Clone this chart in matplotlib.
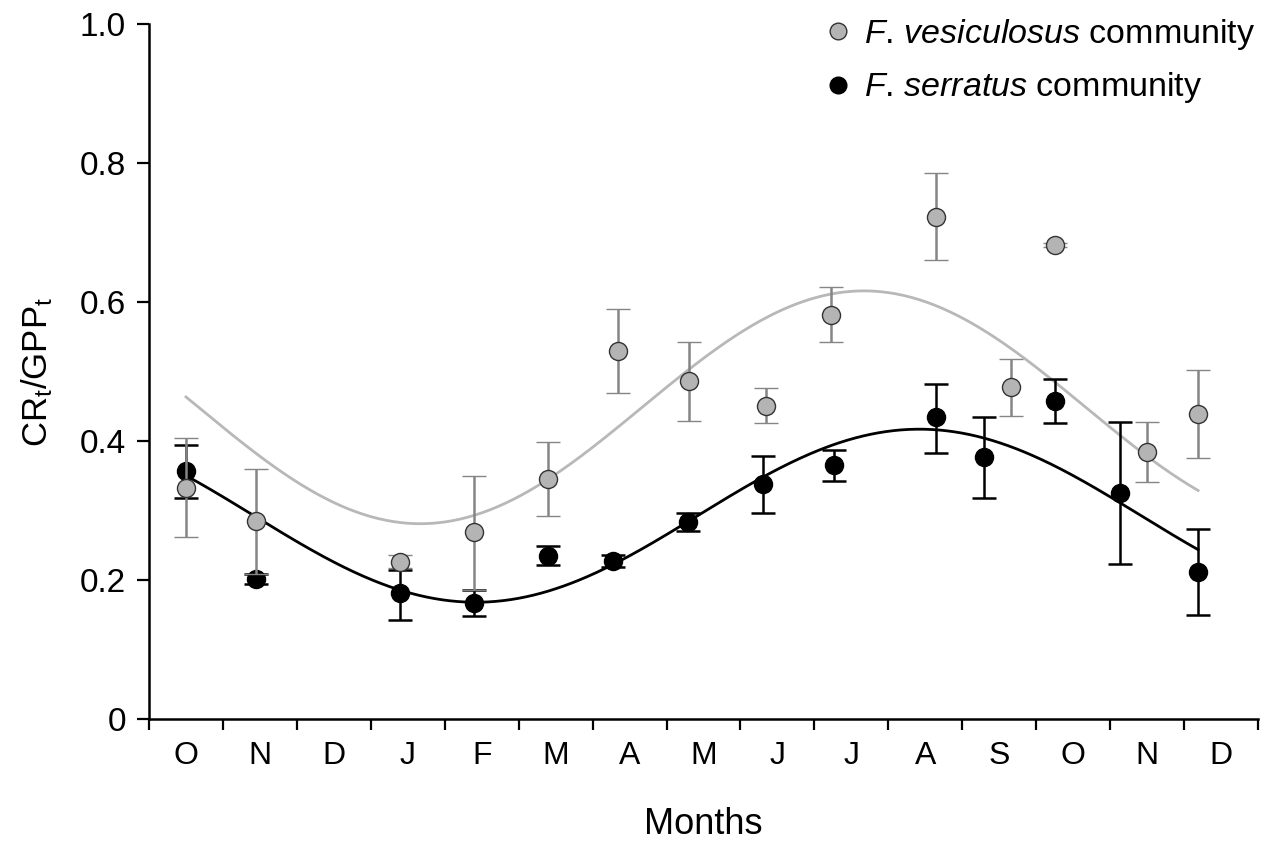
import numpy as np
import matplotlib
matplotlib.use("Agg")
import matplotlib.pyplot as plt
from matplotlib.lines import Line2D

plt.rcParams['font.family'] = ['Liberation Sans', 'DejaVu Sans']
plt.rcParams['mathtext.fontset'] = 'custom'
plt.rcParams['mathtext.rm'] = 'Liberation Sans'
plt.rcParams['mathtext.it'] = 'Liberation Sans:italic'

# ---- data (x in months from start of October, year 1) ----
month_labels = ['O', 'N', 'D', 'J', 'F', 'M', 'A', 'M', 'J', 'J', 'A', 'S', 'O', 'N', 'D']

ves_x = [0.50, 1.45, 3.40, 4.40, 5.40, 6.34, 7.30, 8.35, 9.23, 10.65, 11.66, 12.25, 13.50, 14.19]
ves_y = [0.333, 0.285, 0.226, 0.269, 0.345, 0.530, 0.486, 0.451, 0.581, 0.723, 0.478, 0.682, 0.384, 0.439]
ves_lo = [0.262, 0.209, 0.217, 0.186, 0.292, 0.469, 0.429, 0.426, 0.542, 0.660, 0.436, 0.679, 0.341, 0.375]
ves_hi = [0.404, 0.359, 0.236, 0.349, 0.398, 0.590, 0.542, 0.476, 0.622, 0.785, 0.518, 0.685, 0.427, 0.502]

ser_x = [0.50, 1.45, 3.40, 4.40, 5.40, 6.27, 7.29, 8.31, 9.27, 10.65, 11.30, 12.25, 13.14, 14.19]
ser_y = [0.357, 0.201, 0.182, 0.167, 0.235, 0.228, 0.284, 0.338, 0.365, 0.434, 0.377, 0.458, 0.325, 0.212]
ser_lo = [0.318, 0.194, 0.142, 0.148, 0.222, 0.219, 0.271, 0.297, 0.343, 0.383, 0.318, 0.426, 0.223, 0.150]
ser_hi = [0.394, 0.208, 0.214, 0.186, 0.249, 0.236, 0.297, 0.379, 0.387, 0.482, 0.435, 0.489, 0.427, 0.273]

# fitted sinusoid parameters (mean, amplitude, month of trough, period)
ves_fit = (0.4485, 0.1675, 3.67, 12.0)
ser_fit = (0.2925, 0.1245, 4.42, 12.0)

GRAY_PT = '#b4b4b4'
GRAY_ERR = '#858585'
GRAY_LINE = '#b8b8b8'


def sine_curve(params, x0, x1):
    mean, amp, trough, period = params
    t = np.linspace(x0, x1, 400)
    return t, mean - amp * np.cos(2 * np.pi * (t - trough) / period)


fig = plt.figure(figsize=(12.72, 8.43), dpi=100)
ax = fig.add_axes([149 / 1272, 1 - 719 / 843, (1258 - 149) / 1272, (719 - 24) / 843])

# fitted curves
tx, ty = sine_curve(ser_fit, ser_x[0], ser_x[-1])
ax.plot(tx, ty, color='black', lw=2.0, zorder=2)
tx, ty = sine_curve(ves_fit, ves_x[0], ves_x[-1])
ax.plot(tx, ty, color=GRAY_LINE, lw=2.0, zorder=2)

# error bars + points
ser_err = [np.array(ser_y) - np.array(ser_lo), np.array(ser_hi) - np.array(ser_y)]
ax.errorbar(ser_x, ser_y, yerr=ser_err, fmt='o', color='black', ecolor='black',
            elinewidth=1.8, capsize=8.5, capthick=1.8, markersize=13,
            markerfacecolor='black', markeredgecolor='black', zorder=3)
ves_err = [np.array(ves_y) - np.array(ves_lo), np.array(ves_hi) - np.array(ves_y)]
ax.errorbar(ves_x, ves_y, yerr=ves_err, fmt='o', color=GRAY_ERR, ecolor=GRAY_ERR,
            elinewidth=1.8, capsize=8.5, capthick=1.8, markersize=13,
            markerfacecolor=GRAY_PT, markeredgecolor='#333333', markeredgewidth=1.0, zorder=4)

# axes
ax.set_xlim(0, len(month_labels))
ax.set_ylim(0, 1.0)
ax.set_xticks(np.arange(0, len(month_labels) + 1))
ax.set_xticklabels([])
ax.set_xticks(np.arange(len(month_labels)) + 0.5, minor=True)
ax.set_xticklabels(month_labels, minor=True)
ax.tick_params(axis='x', which='minor', length=0, pad=16, labelsize=23)
ax.tick_params(axis='x', which='major', length=8, width=1.6, direction='out')
ax.set_yticks([0, 0.2, 0.4, 0.6, 0.8, 1.0])
ax.set_yticklabels(['0', '0.2', '0.4', '0.6', '0.8', '1.0'])
ax.tick_params(axis='y', length=8.5, width=1.6, direction='out', labelsize=24, pad=8)

for s in ['top', 'right']:
    ax.spines[s].set_visible(False)
for s in ['left', 'bottom']:
    ax.spines[s].set_linewidth(1.8)

ax.set_xlabel('Months', fontsize=26, labelpad=26)
ax.set_ylabel(r'CR$_\mathrm{t}$/GPP$_\mathrm{t}$', fontsize=25, labelpad=18)

handles = [
    Line2D([], [], marker='o', ls='none', markersize=12, markerfacecolor=GRAY_PT,
           markeredgecolor='#333333', markeredgewidth=1.0),
    Line2D([], [], marker='o', ls='none', markersize=12, markerfacecolor='black',
           markeredgecolor='black'),
]
labels = [r'$\mathit{F}$. $\mathit{vesiculosus}$ community', r'$\mathit{F}$. $\mathit{serratus}$ community']
ax.legend(handles, labels, loc='upper left', bbox_to_anchor=(0.5906, 1.030), frameon=False,
          fontsize=24.5, handletextpad=0.15, labelspacing=0.55, handlelength=1.2, borderaxespad=0)

fig.savefig('out.png', dpi=100)
